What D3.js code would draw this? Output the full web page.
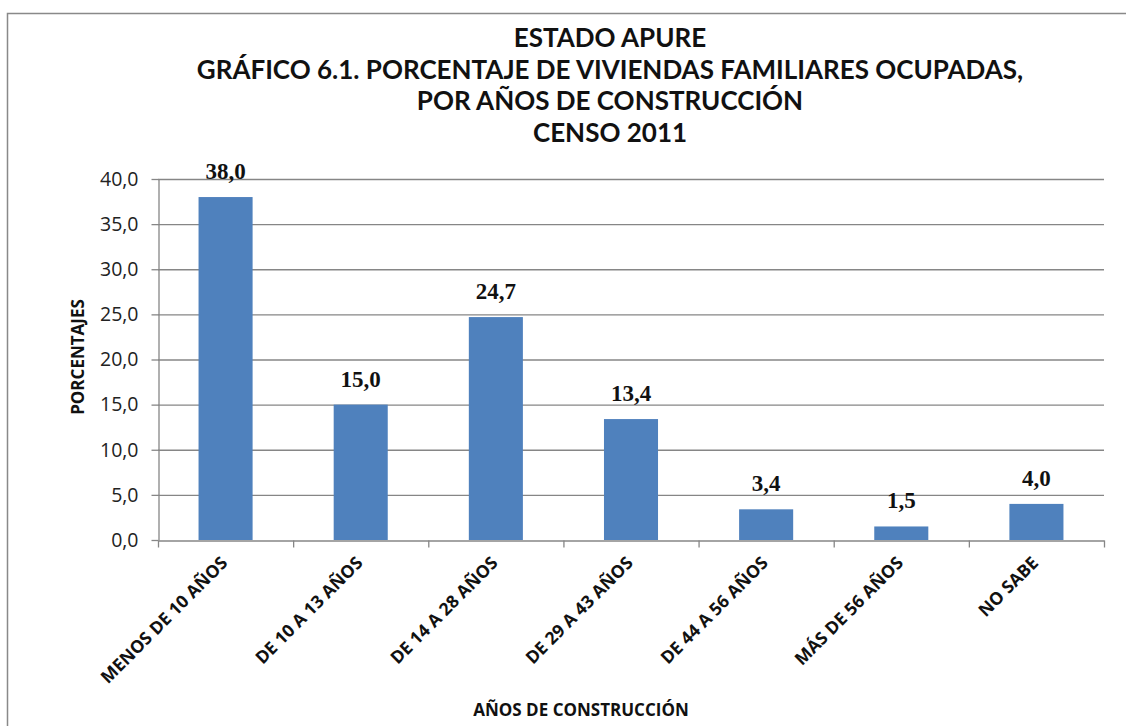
<!DOCTYPE html>
<html><head><meta charset="utf-8">
<script src="https://cdn.jsdelivr.net/npm/d3@7"></script>
<style>body{margin:0;background:#fff}svg{display:block}</style>
</head><body>
<script>
const categories = ["MENOS DE 10 AÑOS","DE 10 A 13 AÑOS","DE 14 A 28 AÑOS","DE 29 A 43 AÑOS","DE 44 A 56 AÑOS","MÁS DE 56 AÑOS","NO SABE"];
const values = [38.0,15.0,24.7,13.4,3.4,1.5,4.0];
const yTicks = [0,5,10,15,20,25,30,35,40];
const titleLines = ["ESTADO APURE","GRÁFICO 6.1. PORCENTAJE DE VIVIENDAS FAMILIARES OCUPADAS,","POR AÑOS DE CONSTRUCCIÓN","CENSO 2011"];

const W=1126,H=726;
const font = "'Open Sans', Lato, sans-serif";
const titleFont = "Lato, 'Open Sans', sans-serif";
const serif = "'Liberation Serif', 'DejaVu Serif', serif";
const svg = d3.select("body").append("svg").attr("width",W).attr("height",H);
svg.append("rect").attr("x",7.5).attr("y",13.5).attr("width",W).attr("height",H).attr("fill","#fff").attr("stroke","#898989").attr("stroke-width",1.5);

const x = d3.scaleBand().domain(categories).range([158,1104]).padding(0);
const y = d3.scaleLinear().domain([0,40]).range([540,179]);
const fmt = v => d3.format(".1f")(v).replace(".",",");

// gridlines
svg.append("g").selectAll("line").data(yTicks.filter(d=>d>0)).join("line")
  .attr("x1",158).attr("x2",1104).attr("y1",d=>y(d)+0.5).attr("y2",d=>y(d)+0.5)
  .attr("stroke","#868686").attr("stroke-width",1.3);

// bars
const bw = x.bandwidth()*0.4;
svg.append("g").selectAll("rect").data(values).join("rect")
  .attr("x",(d,i)=>x(categories[i])+x.bandwidth()/2-bw/2)
  .attr("y",d=>y(d)).attr("width",bw).attr("height",d=>y(0)-y(d))
  .attr("fill","#4f81bd");

// y axis
const ya = svg.append("g").attr("transform","translate(158.5,0)")
  .call(d3.axisLeft(y).tickValues(yTicks).tickFormat(fmt).tickSize(7).tickSizeOuter(0));
ya.select(".domain").attr("stroke","#868686").attr("stroke-width",1.3);
ya.selectAll(".tick line").attr("stroke","#868686").attr("stroke-width",1.3);
ya.selectAll("text").attr("font-family",font).attr("font-size",19.5).attr("fill","#222").attr("dx",-10);

// x axis
const xa = svg.append("g").attr("transform","translate(0,540.5)")
  .call(d3.axisBottom(x).tickSize(0).tickSizeOuter(0));
xa.select(".domain").attr("stroke","#868686").attr("stroke-width",1.5);
xa.selectAll("text").remove();
xa.selectAll(".tick line").remove();
xa.selectAll("line.sep").data(categories.concat(["end"])).join("line")
  .attr("x1",(d,i)=>158+i*x.step()+0.5).attr("x2",(d,i)=>158+i*x.step()+0.5)
  .attr("y1",0).attr("y2",7).attr("stroke","#868686").attr("stroke-width",1.3);

svg.append("g").selectAll("text").data(categories).join("text")
  .attr("transform",d=>`translate(${x(d)+x.bandwidth()/2+3},564) rotate(-45)`)
  .attr("text-anchor","end").attr("font-family",font).attr("font-weight","bold")
  .attr("font-size",17.5).attr("fill","#111").text(d=>d);

// data labels
svg.append("g").selectAll("text").data(values).join("text")
  .attr("x",(d,i)=>x(categories[i])+x.bandwidth()/2)
  .attr("y",d=>y(d)-18).attr("text-anchor","middle")
  .attr("font-family",serif).attr("font-weight","bold").attr("font-size",23).attr("fill","#111")
  .text(fmt);

// titles
svg.append("g").selectAll("text").data(titleLines).join("text")
  .attr("x",610).attr("y",(d,i)=>47+i*31.5).attr("text-anchor","middle")
  .attr("font-family",titleFont).attr("font-weight","bold").attr("font-size",26).attr("fill","#111")
  .text(d=>d);

svg.append("text").attr("transform","translate(84,357) rotate(-90)").attr("text-anchor","middle")
  .attr("font-family",font).attr("font-weight","bold").attr("font-size",17).attr("fill","#111").text("PORCENTAJES");
svg.append("text").attr("x",581).attr("y",716).attr("text-anchor","middle")
  .attr("font-family",font).attr("font-weight","bold").attr("font-size",17).attr("fill","#111").text("AÑOS DE CONSTRUCCIÓN");
</script>
</body></html>
